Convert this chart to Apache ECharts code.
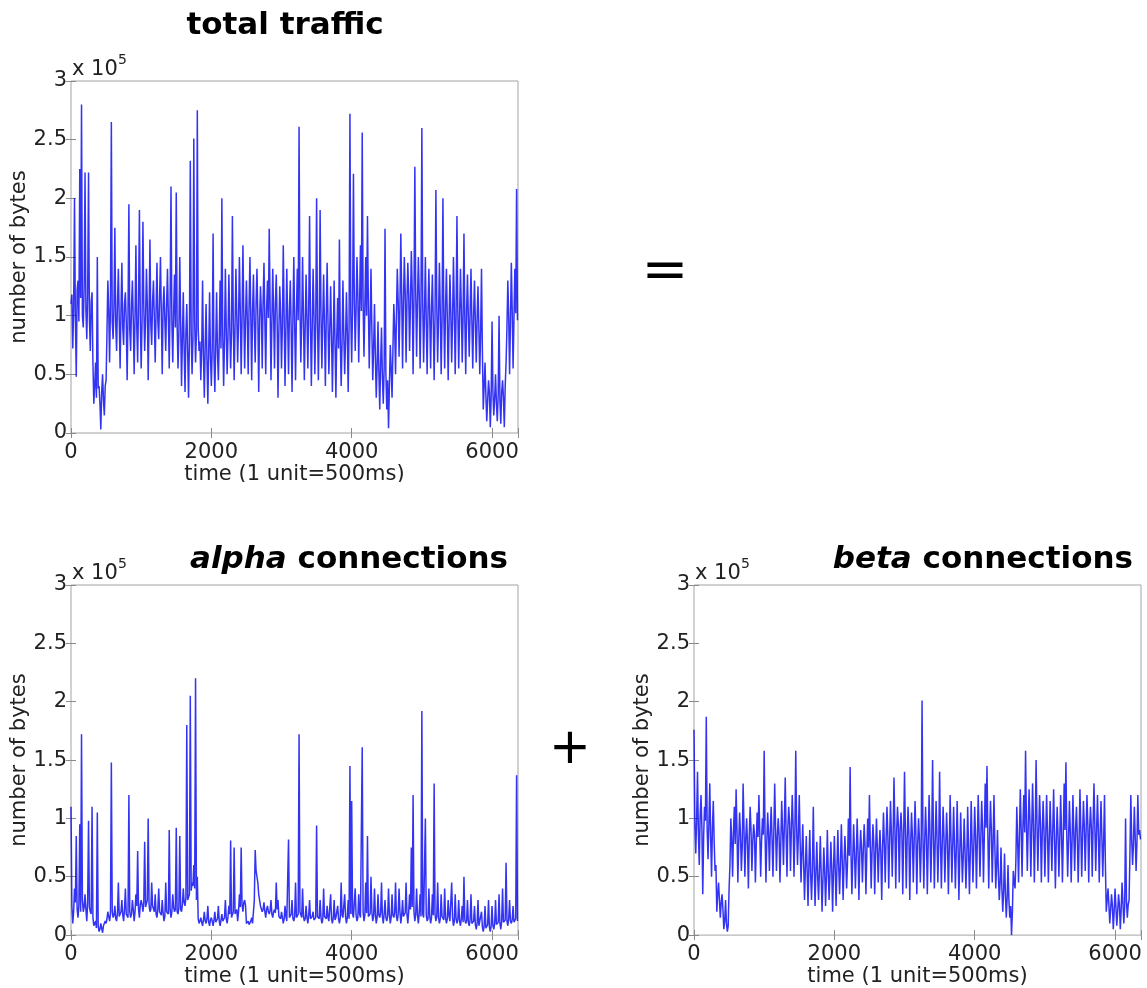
<!DOCTYPE html>
<html><head><meta charset="utf-8">
<script src="https://cdn.jsdelivr.net/npm/echarts@6/dist/echarts.min.js"></script>
<style>html,body{margin:0;padding:0;background:#fff}#c{width:1147px;height:988px}</style>
</head><body><div id="c"></div>
<script>
// sampling interval of the readings (time units, 1 unit = 500 ms)
const STEP = 12.5;
const X_MAX = 6370;
const xTickValues = [0, 2000, 4000, 6000];
const yTickLabels = ['0', '0.5', '1', '1.5', '2', '2.5', '3'];
const panelTitles = ['total traffic', 'alpha', 'beta'];
const xAxisName = 'time (1 unit=500ms)';
const yAxisName = 'number of bytes';

// values in units of 10^3 bytes, one reading every STEP time units (40 readings per row = 500 units)
const totalTraffic = [
  110,118, 72,105, 200,98, 48,122, 130,95, 225,115, 280,100, 90,125, 222,105, 80,118, 222,98, 70,112, 120,60, 25,40, 60,30, 150,38, 40,25, 3,35, 50,28, 15,40,
  45,85, 130,105, 60,110, 265,95, 80,108, 175,92, 70,112, 140,96, 55,105, 145,90, 75,110, 120,94, 45,102, 195,88, 70,108, 130,95, 50,100, 160,90, 60,112, 190,98,
  55,95, 180,108, 70,96, 140,110, 45,100, 165,92, 75,112, 130,98, 60,105, 145,95, 80,115, 150,100, 50,108, 125,96, 70,110, 140,98, 55,112, 210,95, 60,102, 135,90,
  205,92, 55,85, 150,95, 40,80, 120,72, 35,85, 110,70, 30,78, 232,88, 50,80, 251,95, 60,85, 275,90, 70,78, 45,72, 130,66, 30,75, 110,62, 25,70, 120,65,
  40,72, 170,65, 35,75, 120,68, 45,80, 130,72, 200,85, 40,78, 140,88, 50,82, 135,92, 55,86, 185,96, 45,90, 140,100, 60,94, 150,104, 50,96, 160,102, 55,98,
  130,96, 50,108, 150,98, 45,104, 135,92, 60,110, 140,100, 35,95, 125,104, 55,112, 145,96, 50,105, 130,98, 174,108, 45,94, 140,102, 55,110, 135,96, 30,88, 125,100,
  55,92, 160,100, 40,88, 140,96, 50,104, 130,90, 35,98, 150,92, 45,102, 140,96, 261,110, 60,94, 150,100, 45,90, 135,98, 55,104, 185,96, 40,90, 140,100, 50,94,
  200,98, 45,92, 190,100, 55,96, 135,90, 40,98, 145,94, 50,88, 125,84, 35,80, 130,76, 30,82, 115,72, 165,80, 40,76, 130,84, 50,78, 120,86, 35,90, 272,100,
  60,108, 221,115, 70,105, 150,118, 60,110, 160,104, 256,112, 65,108, 150,100, 185,110, 55,95, 140,88, 45,72, 110,65, 30,58, 95,52, 20,60, 90,48, 25,55, 174,50,
  20,45, 4,40, 75,55, 30,70, 110,90, 50,100, 140,112, 65,108, 170,118, 55,110, 150,120, 60,112, 145,118, 70,110, 155,122, 50,115, 227,120, 65,112, 150,118, 55,108,
  260,110, 60,102, 150,96, 50,104, 140,98, 55,106, 135,94, 45,100, 207,108, 60,98, 145,104, 50,96, 200,102, 55,108, 140,98, 45,94, 135,102, 60,96, 150,106, 50,100,
  185,104, 55,98, 140,106, 60,100, 170,96, 50,104, 135,98, 65,102, 140,96, 55,100, 130,94, 60,98, 125,90, 50,86, 140,70, 20,40, 60,32, 10,28, 45,35, 5,30,
  95,35, 15,30, 50,25, 10,32, 100,28, 8,35, 45,30, 5,40, 60,90, 130,100, 50,95, 145,104, 55,98, 140,102, 208,96
];
const alphaConnections = [
  110,25, 10,20, 40,28, 85,22, 15,26, 95,20, 172,30, 20,24, 35,22, 12,28, 98,24, 20,18, 110,15, 8,10, 12,6, 105,8, 3,5, 10,6, 2,8, 8,12,
  10,14, 20,16, 12,18, 148,20, 15,17, 25,14, 12,19, 45,16, 15,20, 30,17, 12,22, 40,18, 18,15, 120,20, 15,18, 30,22, 12,20, 35,25, 72,22, 15,26,
  30,26, 20,28, 80,24, 25,30, 100,26, 20,22, 45,25, 25,20, 35,18, 15,22, 40,20, 20,17, 30,19, 12,16, 45,20, 20,18, 90,22, 15,20, 35,24, 20,22,
  92,20, 18,24, 85,22, 20,26, 40,28, 25,32, 180,30, 30,35, 205,38, 45,42, 60,40, 220,30, 50,14, 10,12, 15,11, 8,13, 20,12, 10,14, 25,11, 8,13,
  15,12, 8,13, 20,11, 10,14, 25,12, 8,13, 18,12, 12,15, 30,14, 10,16, 25,18, 81,15, 15,20, 75,18, 20,22, 12,20, 35,24, 75,26, 20,28, 30,25,
  10,11, 12,9, 8,12, 15,10, 10,30, 73,55, 50,45, 35,30, 25,24, 20,22, 28,20, 15,22, 25,20, 18,21, 30,18, 15,20, 22,19, 45,22, 30,16, 15,14,
  20,15, 10,14, 25,16, 12,13, 82,15, 15,18, 30,14, 12,16, 45,15, 15,18, 172,20, 20,15, 40,16, 12,14, 25,15, 10,17, 30,14, 15,16, 20,13, 12,15,
  94,16, 15,14, 30,15, 10,13, 40,16, 15,14, 25,15, 12,13, 35,14, 10,15, 30,13, 15,16, 25,14, 10,15, 45,17, 15,14, 35,16, 10,15, 30,14, 145,18,
  115,18, 15,16, 40,17, 12,15, 35,18, 15,16, 161,20, 12,17, 45,19, 85,16, 15,18, 50,20, 12,16, 40,18, 10,15, 35,17, 15,19, 45,16, 10,18, 30,15,
  12,16, 40,18, 10,15, 35,17, 15,19, 45,16, 12,18, 40,20, 10,17, 30,16, 15,19, 45,18, 10,20, 35,22, 75,24, 120,20, 12,18, 40,17, 10,19, 35,16,
  192,18, 15,16, 100,17, 12,14, 40,16, 10,15, 35,17, 130,18, 12,16, 45,15, 10,14, 35,16, 15,13, 40,15, 10,14, 30,16, 12,13, 45,15, 8,12, 35,14,
  10,13, 30,12, 8,14, 25,11, 50,13, 10,12, 30,11, 8,13, 35,10, 10,12, 25,9, 5,10, 30,8, 8,9, 20,7, 3,8, 25,6, 5,9, 30,7, 3,8,
  25,8, 5,10, 30,9, 8,11, 35,10, 5,12, 40,11, 10,13, 62,12, 8,14, 30,12, 10,13, 25,11, 12,14, 137,12
];
const betaConnections = [
  176,95, 70,100, 140,88, 60,102, 120,92, 35,85, 110,98, 187,90, 65,96, 130,84, 50,92, 115,80, 55,60, 20,35, 45,30, 15,28, 35,22, 5,12, 30,10, 3,8,
  40,60, 100,82, 50,88, 110,78, 125,90, 45,80, 105,86, 55,76, 130,92, 50,82, 100,78, 40,84, 110,90, 55,80, 95,86, 45,78, 105,84, 120,88, 50,80, 100,86,
  158,88, 45,80, 105,86, 55,90, 110,82, 50,88, 130,92, 55,84, 100,86, 45,80, 115,90, 60,94, 135,88, 50,92, 110,96, 55,90, 120,94, 50,88, 158,92, 60,86,
  120,80, 45,70, 95,62, 30,58, 85,55, 25,60, 90,52, 30,56, 110,60, 25,54, 80,50, 30,56, 85,52, 20,48, 75,55, 25,50, 90,56, 30,52, 80,58, 20,54,
  85,56, 25,60, 90,58, 35,62, 95,64, 30,60, 85,66, 40,62, 100,68, 144,70, 35,66, 95,70, 40,68, 100,72, 30,70, 90,74, 45,72, 95,76, 35,70, 100,75,
  120,76, 40,72, 95,78, 35,70, 100,75, 45,72, 90,70, 30,74, 105,78, 45,82, 110,85, 40,80, 115,88, 50,85, 135,92, 40,88, 110,94, 45,90, 105,88, 35,85,
  140,88, 40,82, 110,86, 30,78, 105,84, 45,80, 115,86, 35,78, 100,82, 45,76, 201,85, 40,80, 110,84, 35,78, 120,88, 45,82, 150,86, 40,80, 115,84, 45,78,
  140,82, 40,78, 110,84, 45,76, 105,80, 35,74, 120,82, 45,78, 110,76, 40,72, 115,78, 30,70, 105,74, 45,68, 100,72, 40,66, 110,74, 35,70, 115,80, 45,76,
  110,84, 40,80, 120,88, 50,84, 115,90, 45,86, 130,92, 145,88, 40,84, 115,90, 45,80, 120,76, 40,60, 90,52, 30,45, 75,40, 20,38, 70,35, 15,32, 60,30,
  15,25, 0,20, 55,45, 40,65, 110,80, 45,86, 125,90, 50,94, 120,88, 158,96, 55,92, 125,98, 50,90, 130,94, 45,88, 150,96, 55,90, 120,94, 45,86, 115,90,
  50,84, 120,88, 45,82, 115,86, 55,90, 125,84, 40,80, 110,86, 50,82, 120,88, 45,84, 130,90, 148,86, 50,82, 115,88, 45,80, 120,86, 55,90, 110,84, 45,80,
  125,90, 50,86, 115,92, 55,88, 120,94, 45,90, 110,92, 50,96, 130,92, 55,90, 120,88, 45,86, 115,84, 50,80, 120,60, 20,30, 40,26, 10,22, 35,25, 5,20,
  40,24, 8,20, 35,26, 5,22, 45,28, 10,24, 100,30, 15,26, 30,70, 120,82, 60,78, 110,84, 55,80, 120,86, 90,82
];

const FONT = 'DejaVu Sans';
const TITLE_FONT = 'DejaVu Sans';
const panels = [
  { left: 71, top: 81, width: 447, height: 352, data: totalTraffic },
  { left: 71, top: 585, width: 447, height: 351, data: alphaConnections },
  { left: 694, top: 585, width: 447, height: 351, data: betaConnections }
];

const grid = [], xAxis = [], yAxis = [], series = [], graphic = [];
const tickStyle = { show: true, inside: true, length: 5, lineStyle: { color: '#8a8a8a', width: 1 } };
panels.forEach((p, i) => {
  grid.push({ left: p.left, top: p.top, width: p.width, height: p.height, show: true,
    borderColor: '#a3a3a3', borderWidth: 1, backgroundColor: 'transparent', containLabel: false });
  const common = { type: 'value', gridIndex: i, min: 0, max: X_MAX, interval: 2000,
    splitLine: { show: false }, axisLine: { show: false }, axisTick: tickStyle };
  xAxis.push(Object.assign({}, common, { position: 'bottom',
    name: xAxisName, nameLocation: 'middle', nameGap: 28,
    nameTextStyle: { fontFamily: FONT, fontSize: 21, color: '#222' },
    axisLabel: { show: true, margin: 9, fontFamily: FONT, fontSize: 21, color: '#222',
      formatter: v => xTickValues.indexOf(v) >= 0 ? String(v) : '' } }));
  xAxis.push(Object.assign({}, common, { position: 'top', axisLabel: { show: false } }));
  const ycommon = { type: 'value', gridIndex: i, min: 0, max: 300, interval: 50,
    splitLine: { show: false }, axisLine: { show: false }, axisTick: tickStyle };
  yAxis.push(Object.assign({}, ycommon, { position: 'left',
    name: yAxisName, nameLocation: 'middle', nameGap: 38,
    nameTextStyle: { fontFamily: FONT, fontSize: 21, color: '#222' },
    axisLabel: { show: true, margin: 4, fontFamily: FONT, fontSize: 21, color: '#222',
      formatter: v => yTickLabels[Math.round(v / 50)] } }));
  yAxis.push(Object.assign({}, ycommon, { position: 'right', axisLabel: { show: false } }));
  series.push({ type: 'line', xAxisIndex: 2 * i, yAxisIndex: 2 * i, showSymbol: false,
    symbol: 'none', sampling: null, animation: false, clip: true,
    lineStyle: { color: 'rgba(0,0,240,0.8)', width: 1.5 },
    data: p.data.map((v, k) => [k * STEP, v]) });
  // "x 10^5" multiplier
  graphic.push({ type: 'text', x: p.left + 1, y: p.top - 11, z: 10,
    style: { text: 'x 10', fill: '#222', font: '21px "' + FONT + '"', align: 'left', verticalAlign: 'middle' } });
  graphic.push({ type: 'text', x: p.left + 47, y: p.top - 21, z: 10,
    style: { text: '5', fill: '#222', font: '14px "' + FONT + '"', align: 'left', verticalAlign: 'middle' } });
});

// titles
graphic.push({ type: 'text', x: 285, y: 26, z: 10,
  style: { text: panelTitles[0], fill: '#000', font: 'bold 31px "' + TITLE_FONT + '"', align: 'center', verticalAlign: 'middle' } });
const richT = {
  i: { fontFamily: TITLE_FONT, fontSize: 31, fontWeight: 'bold', fontStyle: 'italic', fill: '#000', color: '#000' },
  b: { fontFamily: TITLE_FONT, fontSize: 31, fontWeight: 'bold', fill: '#000', color: '#000' }
};
graphic.push({ type: 'text', x: 508, y: 560, z: 10,
  style: { text: '{i|' + panelTitles[1] + '}{b| connections}', rich: richT, align: 'right', verticalAlign: 'middle' } });
graphic.push({ type: 'text', x: 1133, y: 560, z: 10,
  style: { text: '{i|' + panelTitles[2] + '}{b| connections}', rich: richT, align: 'right', verticalAlign: 'middle' } });
// operators
graphic.push({ type: 'text', x: 665, y: 273, z: 10,
  style: { text: '=', fill: '#000', font: '56px "' + FONT + '"', align: 'center', verticalAlign: 'middle' } });
graphic.push({ type: 'text', x: 570, y: 750, z: 10,
  style: { text: '+', fill: '#000', font: '50px "' + FONT + '"', align: 'center', verticalAlign: 'middle' } });
// the source picture is cropped just below the first x-axis title
graphic.push({ type: 'rect', shape: { x: 140, y: 482, width: 320, height: 30 }, z: 20,
  style: { fill: '#fff' } });

const chart = echarts.init(document.getElementById('c'), null, { renderer: 'canvas' });
chart.setOption({ backgroundColor: '#fff', animation: false, grid, xAxis, yAxis, series, graphic });
</script></body></html>
